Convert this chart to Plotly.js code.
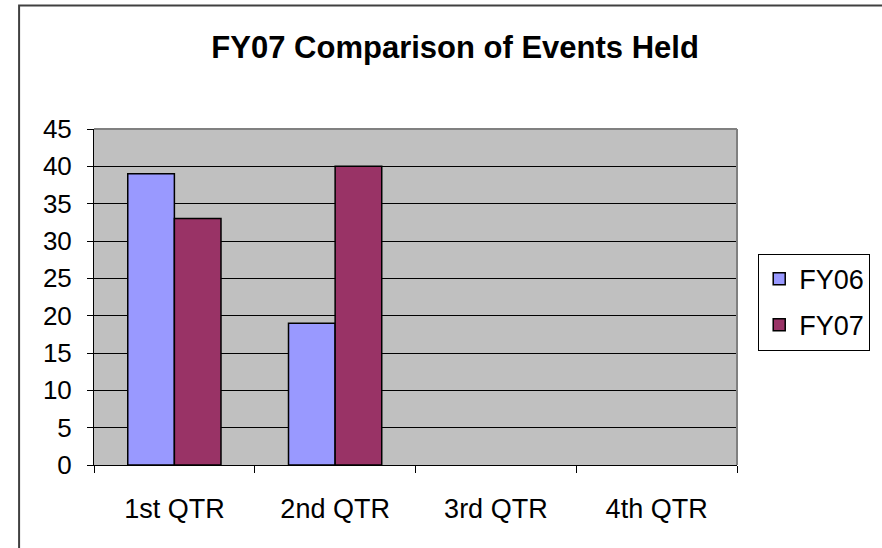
<!DOCTYPE html>
<html>
<head>
<meta charset="utf-8">
<script src="https://cdn.plot.ly/plotly-3.0.1.min.js"></script>
<style>
html,body{margin:0;padding:0;background:#fff;}
#chart{width:882px;height:548px;}
</style>
</head>
<body>
<div id="chart"></div>
<script>
const categories = ["1st QTR", "2nd QTR", "3rd QTR", "4th QTR"];
const fy06 = [39, 19, null, null];
const fy07 = [33, 40, null, null];
const yTicks = [0, 5, 10, 15, 20, 25, 30, 35, 40, 45];

const FONT = "Liberation Sans, Arial, sans-serif";

const traces = [
  {type: "bar", name: "FY06", x: categories, y: fy06, legendgroup: "a",
   marker: {color: "#9999FF", line: {color: "#000000", width: 1.5}}},
  {type: "bar", name: "FY07", x: categories, y: fy07, legendgroup: "b",
   marker: {color: "#993366", line: {color: "#000000", width: 1.5}}}
];

const layout = {
  width: 882, height: 548,
  margin: {l: 94, r: 127, t: 129, b: 83},
  paper_bgcolor: "#ffffff",
  plot_bgcolor: "#C0C0C0",
  font: {family: FONT, color: "#000000", size: 26},
  title: {text: "<b>FY07 Comparison of Events Held</b>", font: {family: FONT, size: 31, color: "#000"},
          x: 0.516, xref: "container", xanchor: "center", y: 0.914, yref: "container", yanchor: "middle"},
  barmode: "group",
  bargap: 0.42,
  bargroupgap: 0,
  showlegend: true,
  legend: {x: 1.033, y: 0.629, xanchor: "left", yanchor: "top",
           traceorder: "grouped", tracegroupgap: 8,
           entrywidth: 130, entrywidthmode: "pixels",
           bordercolor: "#000000", borderwidth: 1, bgcolor: "#ffffff",
           font: {family: FONT, size: 27}},
  xaxis: {type: "category", categoryarray: categories, range: [-0.5, 3.5],
          tickson: "boundaries", ticks: "outside", ticklen: 7, tickcolor: "#000", tickwidth: 1,
          showline: true, linecolor: "#000", linewidth: 1, showgrid: false,
          ticklabelstandoff: 20, tickfont: {family: FONT, size: 27}},
  yaxis: {range: [0, 45], tickvals: yTicks, ticks: "outside", ticklen: 6, tickcolor: "#000",
          showline: true, linecolor: "#000", linewidth: 1,
          showgrid: true, gridcolor: "#000000", gridwidth: 1, zeroline: false,
          ticklabelstandoff: 10, tickfont: {family: FONT, size: 26}},
  shapes: [
    {type: "line", xref: "paper", yref: "paper", x0: 0, x1: 1, y0: 1, y1: 1, line: {color: "#808080", width: 2}},
    {type: "line", xref: "paper", yref: "paper", x0: 1, x1: 1, y0: 0, y1: 1, line: {color: "#808080", width: 2}},
    {type: "rect", xref: "paper", yref: "paper", x0: -0.1165, x1: 1.25, y0: -0.27, y1: 1.3674,
     line: {color: "#404040", width: 2}, layer: "below"}
  ]
};

Plotly.newPlot("chart", traces, layout, {displayModeBar: false, staticPlot: true});
</script>
</body>
</html>
